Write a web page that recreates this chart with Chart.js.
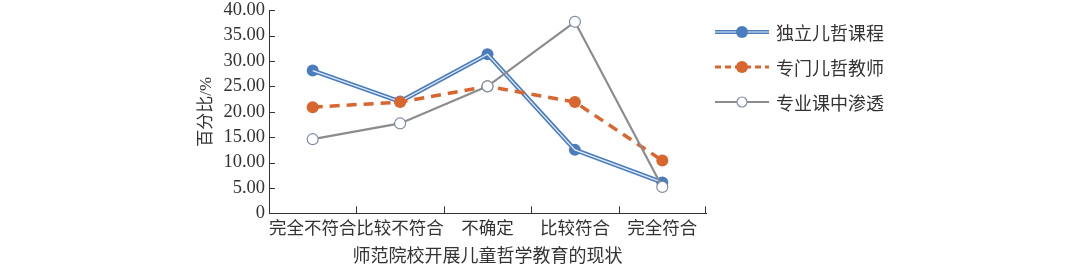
<!DOCTYPE html>
<html>
<head>
<meta charset="utf-8">
<script src="https://cdn.jsdelivr.net/npm/chart.js@4"></script>
<style>
  body { margin: 0; background: #fff; overflow: hidden; }
  #wrap { position: relative; width: 1080px; height: 270px; overflow: hidden; }
  #chart { position: absolute; left: 0; top: -5px; }
  #legend { position: absolute; left: 714px; top: 14px; font-family: "Noto Sans CJK SC", sans-serif; font-size: 18px; color: #333; }
  .row { display: flex; align-items: center; height: 35px; }
  .row svg { margin-right: 6px; }
</style>
</head>
<body>
<div id="wrap">
  <canvas id="chart" width="720" height="275"></canvas>
  <div id="legend"></div>
</div>
<script>
const categories = ["完全不符合", "比较不符合", "不确定", "比较符合", "完全符合"];
const seriesNames = ["独立儿哲课程", "专门儿哲教师", "专业课中渗透"];
const courseValues = [28.1, 22.0, 31.3, 12.5, 6.1];
const teacherValues = [20.9, 21.9, 25.0, 21.9, 10.4];
const infuseValues = [14.6, 17.7, 25.0, 37.7, 5.2];
const yTicks = [0, 5, 10, 15, 20, 25, 30, 35, 40];

const blue = "#4a7dbd";
const orange = "#d9652f";
const gray = "#8c8c8c";
const font = "'Liberation Serif', 'Noto Sans CJK SC', serif";

// short ticks drawn on the inside of both axes
const insideTicks = {
    id: "insideTicks",
    afterDraw(chart) {
        const ctx = chart.ctx;
        const x = chart.scales.x, y = chart.scales.y;
        ctx.save();
        ctx.strokeStyle = "#333";
        ctx.lineWidth = 1;
        ctx.beginPath();
        yTicks.forEach(v => {
            const py = Math.round(y.getPixelForValue(v)) + 0.5;
            ctx.moveTo(x.left, py);
            ctx.lineTo(x.left + 6, py);
        });
        for (let i = 1; i <= categories.length; i++) {
            const px = Math.round((x.getPixelForValue(i - 1) + x.getPixelForValue(i)) / 2) + 0.5;
            const pxEnd = i === categories.length ? x.right - 0.5 : px;
            ctx.moveTo(pxEnd, y.bottom);
            ctx.lineTo(pxEnd, y.bottom - 7);
        }
        ctx.stroke();
        ctx.restore();
    }
};

new Chart(document.getElementById("chart"), {
    type: "line",
    data: {
        labels: categories,
        datasets: [
            {
                label: seriesNames[0],
                data: courseValues,
                borderColor: blue,
                borderWidth: 4.5,
                pointRadius: 6,
                pointBackgroundColor: blue,
                pointBorderWidth: 0,
                order: 3,
            },
            {
                label: "inner",
                data: courseValues,
                borderColor: "#e4ecf7",
                borderWidth: 1.2,
                pointRadius: 0,
                order: 2,
            },
            {
                label: seriesNames[1],
                data: teacherValues,
                borderColor: orange,
                borderWidth: 3.5,
                borderDash: [10, 7],
                pointRadius: 6,
                pointBackgroundColor: orange,
                pointBorderWidth: 0,
                order: 1,
            },
            {
                label: seriesNames[2],
                data: infuseValues,
                borderColor: gray,
                borderWidth: 2.2,
                pointRadius: 5.5,
                pointBackgroundColor: "#fff",
                pointBorderColor: "#7d8da3",
                pointBorderWidth: 1.2,
                order: 0,
            },
        ],
    },
    options: {
        responsive: false,
        animation: false,
        layout: { padding: { top: 0, right: 14, left: 196, bottom: 0 } },
        plugins: { legend: { display: false }, tooltip: { enabled: false } },
        scales: {
            x: {
                offset: true,
                grid: { display: false, drawTicks: false },
                border: { color: "#333", width: 1 },
                ticks: { color: "#333", font: { family: font, size: 17.5 }, padding: 6, maxRotation: 0, autoSkip: false },
                title: { display: true, text: "师范院校开展儿童哲学教育的现状", color: "#333", font: { family: font, size: 18 }, padding: { top: 0, bottom: 2 } },
            },
            y: {
                min: 0,
                max: 40,
                afterBuildTicks: s => { s.ticks = yTicks.map(v => ({ value: v })); },
                afterFit: s => { s.width = 73; },
                grid: { display: false, drawTicks: false },
                border: { color: "#333", width: 1 },
                ticks: {
                    color: "#333",
                    padding: 4,
                    autoSkip: false,
                    font: { family: font, size: 18.5 },
                    callback: v => v === 0 ? "0" : v.toFixed(2),
                },
                title: { display: true, text: "百分比/%", color: "#333", font: { family: font, size: 17 }, padding: { top: 0, bottom: 0 } },
            },
        },
    },
    plugins: [insideTicks],
});

// legend built in the page as real text
const legendEl = document.getElementById("legend");
const samples = [
    `<line x1="1" y1="8" x2="55" y2="8" stroke="${blue}" stroke-width="4"/><line x1="1" y1="8" x2="55" y2="8" stroke="#e4ecf7" stroke-width="1.2"/><circle cx="28" cy="8" r="6" fill="${blue}"/>`,
    `<line x1="1" y1="8" x2="55" y2="8" stroke="${orange}" stroke-width="3" stroke-dasharray="6,4"/><circle cx="28" cy="8" r="6" fill="${orange}"/>`,
    `<line x1="1" y1="8" x2="55" y2="8" stroke="${gray}" stroke-width="2"/><circle cx="28" cy="8" r="5" fill="#fff" stroke="#7d8da3" stroke-width="1.2"/>`,
];
seriesNames.forEach((name, i) => {
    const row = document.createElement("div");
    row.className = "row";
    row.innerHTML = `<svg width="56" height="16">${samples[i]}</svg><span>${name}</span>`;
    legendEl.appendChild(row);
});
</script>
</body>
</html>
